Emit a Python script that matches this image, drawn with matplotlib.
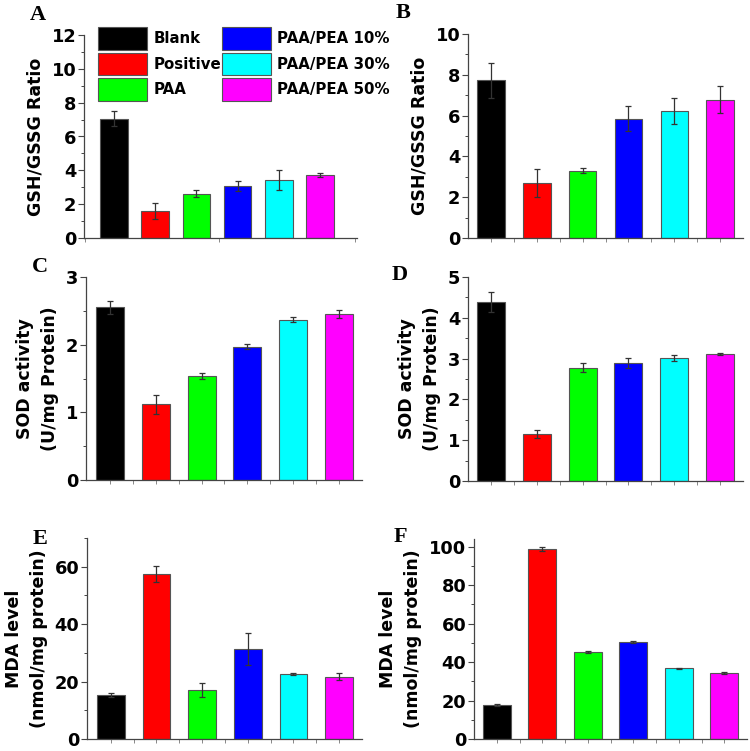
import numpy as np
import matplotlib
matplotlib.use("Agg")
import matplotlib.pyplot as plt
from matplotlib.ticker import MultipleLocator, FixedLocator, NullFormatter

plt.rcParams['font.family'] = ['DejaVu Sans']
plt.rcParams['font.weight'] = 'bold'

# Groups and colours
groups = ["Blank", "Positive", "PAA", "PAA/PEA 10%", "PAA/PEA 30%", "PAA/PEA 50%"]
colors = ["#000000", "#ff0000", "#00ff00", "#0000ff", "#00ffff", "#ff00ff"]

# Panel data (mean, error)
gsh_a = [7.05, 1.60, 2.62, 3.08, 3.42, 3.72]
gsh_a_err = [0.43, 0.45, 0.19, 0.31, 0.60, 0.12]
gsh_b = [7.73, 2.71, 3.30, 5.85, 6.21, 6.78]
gsh_b_err = [0.85, 0.69, 0.13, 0.62, 0.64, 0.67]
sod_c = [2.55, 1.12, 1.54, 1.97, 2.37, 2.45]
sod_c_err = [0.09, 0.14, 0.04, 0.04, 0.04, 0.06]
sod_d = [4.39, 1.15, 2.77, 2.89, 3.02, 3.12]
sod_d_err = [0.24, 0.10, 0.11, 0.12, 0.07, 0.02]
mda_e = [15.2, 57.5, 17.0, 31.4, 22.6, 21.7]
mda_e_err = [0.7, 2.9, 2.5, 5.6, 0.4, 1.2]
mda_f = [17.7, 98.8, 45.1, 50.4, 36.8, 34.4]
mda_f_err = [0.4, 1.0, 0.6, 0.4, 0.2, 0.5]

W, H = 750, 751
fig = plt.figure(figsize=(W / 100, H / 100), dpi=100)


def make_ax(l, r, t, b):
    return fig.add_axes([l / W, 1 - b / H, (r - l) / W, (b - t) / H])


def draw(ax, vals, errs, xlim, width, ylim, major, minor, ylabel, letter, letter_xy):
    x = np.arange(1, len(vals) + 1)
    bars = ax.bar(x, vals, width=width, color=colors, edgecolor="#555555", linewidth=0.8, zorder=2)
    ax.errorbar(x, vals, yerr=errs, fmt="none", ecolor="#333333", elinewidth=0.9,
                capsize=2.5, capthick=0.9, zorder=3)
    ax.set_xlim(*xlim)
    ax.set_ylim(*ylim)
    ax.yaxis.set_major_locator(MultipleLocator(major))
    ax.yaxis.set_minor_locator(MultipleLocator(minor))
    ax.xaxis.set_major_locator(FixedLocator(x))
    ax.xaxis.set_minor_locator(FixedLocator(x[:-1] + 0.5))
    ax.xaxis.set_major_formatter(NullFormatter())
    for s in ("top", "right"):
        ax.spines[s].set_visible(False)
    for s in ("left", "bottom"):
        ax.spines[s].set_color("#444444")
        ax.spines[s].set_linewidth(0.9)
    ax.tick_params(axis="y", which="major", length=4, width=0.8, color="#444444",
                   labelsize=12.8, pad=1.5)
    ax.tick_params(axis="y", which="minor", length=2.5, width=0.7, color="#444444")
    ax.tick_params(axis="x", which="both", length=3, width=0.7, color="#888888")
    ax.set_ylabel(ylabel, fontsize=12.5, fontweight="bold", labelpad=5, linespacing=1.5)
    fig.text(letter_xy[0] / W, 1 - letter_xy[1] / H, letter, fontsize=16, fontweight="bold",
             family="Liberation Serif", ha="center", va="center")
    return bars


ax_a = make_ax(84, 357, 35, 238)
bars = draw(ax_a, gsh_a, gsh_a_err, (0.27, 6.9), 0.67, (0, 12), 2, 1,
            "GSH/GSSG Ratio", "A", (38, 15))
ax_a.xaxis.set_major_locator(FixedLocator([0.3, 3.55, 6.85]))
ax_a.xaxis.set_minor_locator(FixedLocator([]))
ax_a.legend(bars, groups, ncol=2, loc="upper left", bbox_to_anchor=(0.051, 1.04),
            frameon=False, borderpad=0, borderaxespad=0, handlelength=3.3,
            handleheight=1.95, handletextpad=0.4, columnspacing=0.05, labelspacing=0.2,
            prop={"size": 10.8, "weight": "bold"})

ax_b = make_ax(468, 743, 34, 238)
draw(ax_b, gsh_b, gsh_b_err, (0.5, 6.5), 0.6, (0, 10), 2, 1,
     "GSH/GSSG Ratio", "B", (403, 13))

ax_c = make_ax(86, 362, 277, 480)
draw(ax_c, sod_c, sod_c_err, (0.48, 6.5), 0.61, (0, 3), 1, 0.5,
     "SOD activity\n(U/mg Protein)", "C", (40, 267))

ax_d = make_ax(468, 743, 277, 481)
draw(ax_d, sod_d, sod_d_err, (0.5, 6.5), 0.61, (0, 5), 1, 0.5,
     "SOD activity\n(U/mg Protein)", "D", (400, 275))

ax_e = make_ax(87, 362, 538, 739)
draw(ax_e, mda_e, mda_e_err, (0.48, 6.5), 0.61, (0, 70), 20, 10,
     "MDA level\n(nmol/mg protein)", "E", (40, 539))

ax_f = make_ax(474, 747, 539, 739)
draw(ax_f, mda_f, mda_f_err, (0.5, 6.5), 0.61, (0, 104), 20, 10,
     "MDA level\n(nmol/mg protein)", "F", (400, 537))

fig.savefig("out.png", dpi=100)
